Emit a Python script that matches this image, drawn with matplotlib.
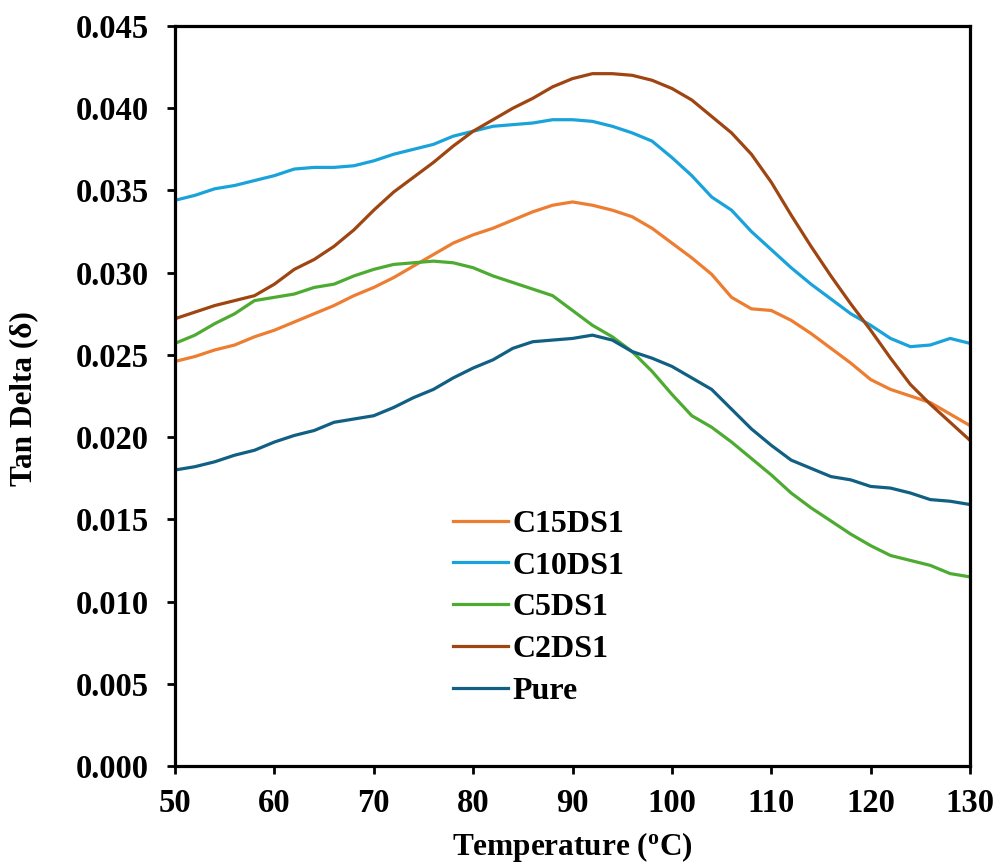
import numpy as np
import matplotlib
matplotlib.use("Agg")
import matplotlib.pyplot as plt
import matplotlib.ticker as mticker

plt.rcParams["font.family"] = ["Liberation Serif", "DejaVu Serif"]
plt.rcParams["font.weight"] = "bold"

# Temperature grid (°C) and tan delta readings per sample
temperature = [50, 52, 54, 56, 58, 60, 62, 64, 66, 68, 70, 72, 74, 76, 78, 80,
               82, 84, 86, 88, 90, 92, 94, 96, 98, 100, 102, 104, 106, 108, 110,
               112, 114, 116, 118, 120, 122, 124, 126, 128, 130]

c15ds1 = [0.0246, 0.0249, 0.0253, 0.0256, 0.0261, 0.0265, 0.0270, 0.0275, 0.0280,
          0.0286, 0.0291, 0.0297, 0.0304, 0.0311, 0.0318, 0.0323, 0.0327, 0.0332,
          0.0337, 0.0341, 0.0343, 0.0341, 0.0338, 0.0334, 0.0327, 0.0318, 0.0309,
          0.0299, 0.0285, 0.0278, 0.0277, 0.0271, 0.0263, 0.0254, 0.0245, 0.0235,
          0.0229, 0.0225, 0.0221, 0.0214, 0.0207]

c10ds1 = [0.0344, 0.0347, 0.0351, 0.0353, 0.0356, 0.0359, 0.0363, 0.0364, 0.0364,
          0.0365, 0.0368, 0.0372, 0.0375, 0.0378, 0.0383, 0.0386, 0.0389, 0.0390,
          0.0391, 0.0393, 0.0393, 0.0392, 0.0389, 0.0385, 0.0380, 0.0370, 0.0359,
          0.0346, 0.0338, 0.0325, 0.0314, 0.0303, 0.0293, 0.0284, 0.0275, 0.0268,
          0.0260, 0.0255, 0.0256, 0.0260, 0.0257]

c5ds1 = [0.0257, 0.0262, 0.0269, 0.0275, 0.0283, 0.0285, 0.0287, 0.0291, 0.0293,
         0.0298, 0.0302, 0.0305, 0.0306, 0.0307, 0.0306, 0.0303, 0.0298, 0.0294,
         0.0290, 0.0286, 0.0277, 0.0268, 0.0261, 0.0252, 0.0240, 0.0226, 0.0213,
         0.0206, 0.0197, 0.0187, 0.0177, 0.0166, 0.0157, 0.0149, 0.0141, 0.0134,
         0.0128, 0.0125, 0.0122, 0.0117, 0.0115]

c2ds1 = [0.0272, 0.0276, 0.0280, 0.0283, 0.0286, 0.0293, 0.0302, 0.0308, 0.0316,
         0.0326, 0.0338, 0.0349, 0.0358, 0.0367, 0.0377, 0.0386, 0.0393, 0.0400,
         0.0406, 0.0413, 0.0418, 0.0421, 0.0421, 0.0420, 0.0417, 0.0412, 0.0405,
         0.0395, 0.0385, 0.0372, 0.0355, 0.0335, 0.0316, 0.0298, 0.0281, 0.0265,
         0.0248, 0.0232, 0.0220, 0.0209, 0.0198]

pure = [0.0180, 0.0182, 0.0185, 0.0189, 0.0192, 0.0197, 0.0201, 0.0204, 0.0209,
        0.0211, 0.0213, 0.0218, 0.0224, 0.0229, 0.0236, 0.0242, 0.0247, 0.0254,
        0.0258, 0.0259, 0.0260, 0.0262, 0.0259, 0.0252, 0.0248, 0.0243, 0.0236,
        0.0229, 0.0217, 0.0205, 0.0195, 0.0186, 0.0181, 0.0176, 0.0174, 0.0170,
        0.0169, 0.0166, 0.0162, 0.0161, 0.0159]

series = [
    ("C15DS1", c15ds1, "#ED7D31"),
    ("C10DS1", c10ds1, "#1AA3DB"),
    ("C5DS1", c5ds1, "#4EAB31"),
    ("C2DS1", c2ds1, "#9E4511"),
    ("Pure", pure, "#115F82"),
]

fig = plt.figure(figsize=(9.95, 8.63), dpi=100)
ax = fig.add_axes([0.1759, 0.1124, 0.7990, 0.8575])

for name, vals, color in series:
    ax.plot(temperature, vals, color=color, linewidth=2.3, label=name)

ax.set_xlim(50, 130)
ax.set_ylim(0, 0.045)
ax.set_xticks(np.arange(50, 131, 10))
ax.set_yticks(np.arange(0, 0.0451, 0.005))
ax.yaxis.set_major_formatter(mticker.FormatStrFormatter("%.3f"))
ax.tick_params(axis="y", direction="out", length=6, width=2,
               labelsize=23.5, pad=13)
ax.tick_params(axis="x", direction="out", length=6, width=2,
               labelsize=23.5, pad=10)

for side in ["left", "bottom", "top", "right"]:
    ax.spines[side].set_linewidth(2.3)

ax.set_xlabel("Temperature ($\\mathregular{^o}$C)", fontsize=22.5,
              fontweight="bold", va="top")
ax.xaxis.set_label_coords(0.5, -0.087)
ax.set_ylabel("Tan Delta (\u03b4)", fontsize=22.5, fontweight="bold")
ax.yaxis.set_label_coords(-0.172, 0.497)

ax.legend(loc="upper left", bbox_to_anchor=(0.333, 0.364), frameon=False,
          fontsize=23, handlelength=1.75, handletextpad=0.12,
          labelspacing=0.39, borderaxespad=0)

fig.savefig("out.png", dpi=100)
